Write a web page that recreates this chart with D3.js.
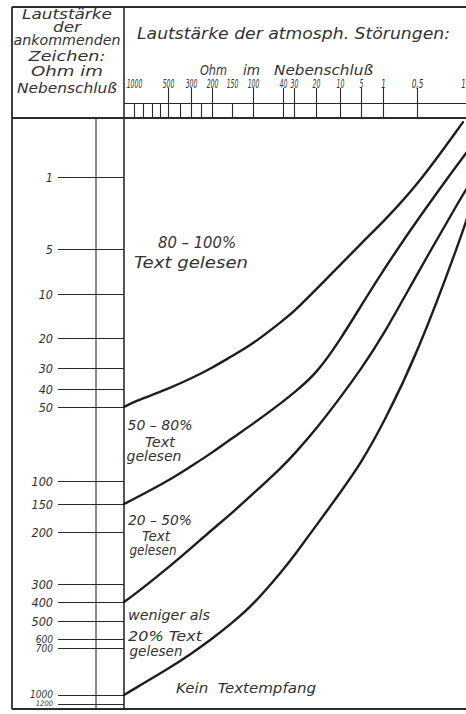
<!DOCTYPE html>
<html><head><meta charset="utf-8">
<script src="https://cdn.jsdelivr.net/npm/d3@7"></script>
<style>
body{margin:0;background:#fff}
text{font-family:"DejaVu Sans Condensed","DejaVu Sans",sans-serif;font-style:italic;fill:#333}
</style>
</head><body>
<svg id="c" width="466" height="714"></svg>
<script>
// ---------------- data ----------------
// left axis: loudness of incoming signals (Ohm in shunt)
const signalTicks  = [1,5,10,20,30,40,50,100,150,200,300,400,500,600,700,1000,1200];
const signalLabels = ["1","5","10","20","30","40","50","100","150","200","300","400","500","600","700","1000","1200"];
// top axis: loudness of atmospheric disturbances (Ohm in shunt)
const noiseMajorTicks = [500,300,200,100,40,30,20,10,5,1,0.5];
const noiseMinorTicks = [1000,800,700,600,400,250,150];
const noiseLabelTicks = [1000,500,300,200,150,100,40,30,20,10,5,1,0.5,0.1];
const noiseLabels     = ["1000","500","300","200","150","100","40","30","20","10","5","1","0,5","1"];
// boundary curves: signal loudness at given disturbance loudness
const curveNoise = [1200,1000,500,300,200,150,100,40,30,20,10,5,1,0.5,0.1,0.02];
const boundary80 = [50,47,40,35,30,26,22,16,14,9.5,6.8,4.7,3.5,1.5,0.07];
const boundary50 = [150,139,100,90,81,71,61.5,47,42,33,20.7,12.7,7.4,3.4,0.66,0.46];
const boundary20 = [400,361,269,231,196,166,128,90,82,65,45,30.5,19.5,7.8,1.94,1.17];
const boundary0  = [1000,961,834,738,600,511,416,273,246,189,126,88,61.5,25.7,4.06,2.39];
const regionTexts = [
  ["80 – 100%","Text gelesen"],
  ["50 – 80%","Text","gelesen"],
  ["20 – 50%","Text","gelesen"],
  ["weniger als","20% Text","gelesen"],
  ["Kein  Textempfang"]
];
const headerLeft = ["Lautstärke","der","ankommenden","Zeichen:","Ohm im","Nebenschluß"];
const headerTitle = "Lautstärke der atmosph. Störungen:";
const headerSub = ["Ohm","im","Nebenschluß"];

// ---------------- layout (hand-drawn nomogram scale calibration) ----------------
const L = 12, T = 7, R = 466, B = 709, colX = 124, innerX = 96, headY = 118, subLineY = 103.5;
const noiseCal  = [1200,1000,800,700,600,500,400,300,250,200,150,100,40,30,20,10,5,1,0.5,0.1];
const noiseCalX = [124,134,143,152,160,168,180,191,201,212,232,253,283,294,316,340,361,383,417,463];
const signalCal  = [0,1,5,10,20,30,40,50,100,150,200,300,400,500,600,700,1000,1200];
const signalCalY = [118,177,249,294,338,368,389,407,481,504,532,584,602,621,639,648,695,704];

const x = d3.scaleLinear().domain(noiseCal).range(noiseCalX);
const y = d3.scaleLinear().domain(signalCal).range(signalCalY);

const svg = d3.select("#c");
const ink = "#2b2b2b";

// frame
const frame = svg.append("g").attr("stroke", ink).attr("fill","none");
frame.append("line").attr("x1",L).attr("x2",R).attr("y1",T).attr("y2",T).attr("stroke-width",1.8);
frame.append("line").attr("x1",L).attr("x2",L).attr("y1",T).attr("y2",B).attr("stroke-width",1.8);
frame.append("line").attr("x1",L).attr("x2",R).attr("y1",B).attr("y2",B).attr("stroke-width",1.8);
frame.append("line").attr("x1",colX).attr("x2",colX).attr("y1",T).attr("y2",B).attr("stroke-width",1.6);
frame.append("line").attr("x1",L).attr("x2",R).attr("y1",headY).attr("y2",headY).attr("stroke-width",2);
frame.append("line").attr("x1",colX).attr("x2",R).attr("y1",subLineY).attr("y2",subLineY).attr("stroke-width",1.1);
frame.append("line").attr("x1",innerX).attr("x2",innerX).attr("y1",headY).attr("y2",B).attr("stroke-width",1.1);

// left axis
const ya = svg.append("g").attr("transform",`translate(${colX},0)`)
  .call(d3.axisLeft(y).tickValues(signalTicks).tickSize(66).tickPadding(5)
        .tickFormat((d,i)=>signalLabels[i]));
ya.select(".domain").remove();
ya.selectAll(".tick line").attr("stroke",ink).attr("stroke-width",1.2);
ya.selectAll(".tick text").attr("fill","#333")
  .attr("font-size",d=>d===1200?7.5:(d===1000?10:(d===600||d===700?10:12.5)))
  .attr("dy",d=>d===1200?"0.2em":(d===1000?"0.2em":"0.35em"));

// top axes
const xMaj = svg.append("g").attr("transform",`translate(0,${headY})`)
  .call(d3.axisTop(x).tickValues(noiseMajorTicks).tickSize(30).tickFormat(""));
const xMin = svg.append("g").attr("transform",`translate(0,${headY})`)
  .call(d3.axisTop(x).tickValues(noiseMinorTicks).tickSize(headY-subLineY).tickFormat(""));
const xLab = svg.append("g").attr("transform",`translate(0,${headY})`)
  .call(d3.axisTop(x).tickValues(noiseLabelTicks).tickSize(0).tickPadding(30)
        .tickFormat((d,i)=>noiseLabels[i]));
[xMaj,xMin,xLab].forEach(g=>{
  g.select(".domain").remove();
  g.selectAll(".tick line").attr("stroke",ink).attr("stroke-width",1.1);
});
xLab.selectAll(".tick text").attr("fill","#333")
  .attr("font-size",11.5)
  .attr("textLength",(d,i)=>noiseLabels[i].length*(noiseLabels[i]==="1"?4.5:3.9))
  .attr("lengthAdjust","spacingAndGlyphs");

// header texts
const hl = [{y:19,w:90},{y:32,w:28},{y:45,w:107},{y:61,w:77},{y:76,w:72},{y:93,w:100}];
svg.append("g").selectAll("text").data(headerLeft).join("text")
  .attr("x",67).attr("y",(d,i)=>hl[i].y).attr("text-anchor","middle")
  .attr("font-size",13.5).attr("textLength",(d,i)=>hl[i].w).attr("lengthAdjust","spacingAndGlyphs")
  .text(d=>d);
svg.append("text").attr("x",293.5).attr("y",39).attr("text-anchor","middle")
  .attr("font-size",16.5).attr("textLength",313).attr("lengthAdjust","spacingAndGlyphs").text(headerTitle);
const hs = [{x:200,w:27},{x:243,w:17},{x:274,w:99}];
svg.append("g").selectAll("text").data(headerSub).join("text")
  .attr("x",(d,i)=>hs[i].x).attr("y",75).attr("font-size",14.5)
  .attr("textLength",(d,i)=>hs[i].w).attr("lengthAdjust","spacingAndGlyphs").text(d=>d);

// curves
const line = d3.line().x(d=>x(d[0])).y(d=>y(d[1])).curve(d3.curveBasis);
[boundary80,boundary50,boundary20,boundary0].forEach(b=>{
  svg.append("path").datum(b.map((v,i)=>[curveNoise[i],v]))
    .attr("d",line).attr("fill","none").attr("stroke","#1e1e1e")
    .attr("stroke-width",2.4).attr("stroke-linecap","round");
});

// region labels
const rl = [
  [{x:197,y:248,w:78,s:15},{x:191,y:268,w:114,s:15}],
  [{x:160,y:430,w:65,s:13.5},{x:160,y:447,w:30,s:13.5},{x:154,y:461,w:55,s:13.5}],
  [{x:160,y:525,w:64,s:13.5},{x:156,y:541,w:28,s:13.5},{x:153,y:555,w:47,s:13.5}],
  [{x:169,y:620,w:82,s:13.5},{x:165,y:641,w:74,s:13.5},{x:156,y:656,w:53,s:13.5}],
  [{x:246,y:693,w:140,s:14.5}]
];
regionTexts.forEach((lines,k)=>{
  svg.append("g").selectAll("text").data(lines).join("text")
    .attr("x",(d,i)=>rl[k][i].x).attr("y",(d,i)=>rl[k][i].y)
    .attr("text-anchor","middle").attr("font-size",(d,i)=>rl[k][i].s)
    .attr("textLength",(d,i)=>rl[k][i].w).attr("lengthAdjust","spacingAndGlyphs")
    .style("white-space","pre").text(d=>d);
});
</script>
</body></html>
